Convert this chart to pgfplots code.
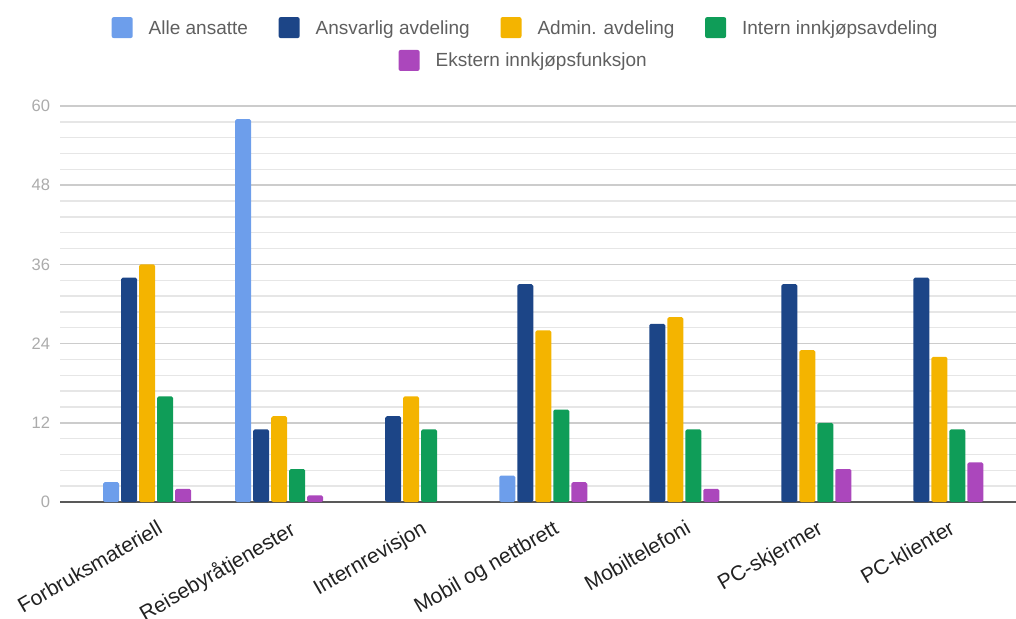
\documentclass[border=0pt]{standalone}
\usepackage{fontspec}
\setmainfont{Liberation Sans}
\usepackage{pgfplots}
\pgfplotsset{compat=1.18}
\definecolor{cAlle}{HTML}{6D9EEB}
\definecolor{cAnsv}{HTML}{1C4587}
\definecolor{cAdmin}{HTML}{F4B400}
\definecolor{cIntern}{HTML}{0F9D58}
\definecolor{cEkst}{HTML}{AB47BC}
\definecolor{legtext}{HTML}{5F5F5F}
\definecolor{ticktext}{HTML}{ABABAB}
\definecolor{xlab}{HTML}{222222}
\definecolor{gridmaj}{HTML}{CCCCCC}
\definecolor{gridmin}{HTML}{E6E6E6}
\pgfplotsset{
  swatch/.style={legend image code/.code={\fill[##1,rounded corners=1.5pt] (0pt,-7.4pt) rectangle (15.75pt,8.3pt);}},
  myleg/.style={legend style={draw=none, fill=none, text=legtext,
      font=\fontsize{14.25pt}{17pt}\selectfont,
      nodes={inner sep=0pt},
      /tikz/every odd column/.append style={column sep=12pt},
      /tikz/every even column/.append style={column sep=23pt}}},
}
\begin{document}
\begin{tikzpicture}
\begin{axis}[
  name=main, at={(0,0)}, anchor=south west,
  scale only axis, width=717pt, height=297pt,
  ybar=1.5pt, bar width=12pt,
  xmin=-0.66, xmax=6.58, ymin=0, ymax=60,
  xtick={0,...,6},
  xticklabels={Forbruksmateriell,Reisebyråtjenester,Internrevisjon,Mobil og nettbrett,Mobiltelefoni,PC-skjermer,PC-klienter},
  ytick={0,12,...,60}, minor y tick num=4,
  ymajorgrids, yminorgrids,
  major grid style={gridmaj, line width=1.1pt},
  minor grid style={gridmin, line width=1.1pt},
  axis line style={draw=none},
  tick style={draw=none},
  extra y ticks={0}, extra y tick labels={},
  extra y tick style={major grid style={black!65, line width=1.5pt}},
  /pgf/number format/assume math mode=true,
  yticklabel style={font=\fontsize{12.4pt}{14pt}\selectfont, text=ticktext, xshift=-4pt},
  xticklabel style={font=\fontsize{15.75pt}{18pt}\selectfont, text=xlab, xshift=8pt, yshift=-4pt, rotate=30, anchor=north east},
  every axis plot/.append style={draw=none, rounded corners=1.2pt},
  every axis plot post/.append style={swatch},
  myleg,
  legend columns=4,
  legend style={at={(0.486,1.198)}, anchor=center},
]
\addplot[fill=cAlle] coordinates {(0,3) (1,58) (3,4)};
\addlegendentry{Alle ansatte}
\addplot[fill=cAnsv] coordinates {(0,34) (1,11) (2,13) (3,33) (4,27) (5,33) (6,34)};
\addlegendentry{Ansvarlig avdeling}
\addplot[fill=cAdmin] coordinates {(0,36) (1,13) (2,16) (3,26) (4,28) (5,23) (6,22)};
\addlegendentry{Admin. avdeling}
\addplot[fill=cIntern] coordinates {(0,16) (1,5) (2,11) (3,14) (4,11) (5,12) (6,11)};
\addlegendentry{Intern innkjøpsavdeling}
\addplot[fill=cEkst] coordinates {(0,2) (1,1) (3,3) (4,2) (5,5) (6,6)};
\end{axis}
\begin{axis}[
  at={(0,0)}, anchor=south west,
  scale only axis, width=717pt, height=297pt,
  xmin=0, xmax=1, ymin=0, ymax=1, hide axis,
  myleg,
  legend style={at={(0.484,1.115)}, anchor=center},
]
\addlegendimage{fill=cEkst, draw=none, swatch}
\addlegendentry{Ekstern innkjøpsfunksjon}
\end{axis}
\pgfresetboundingbox
\path[use as bounding box] (-45pt,-87pt) rectangle (717pt,376.5pt);
\end{tikzpicture}
\end{document}
